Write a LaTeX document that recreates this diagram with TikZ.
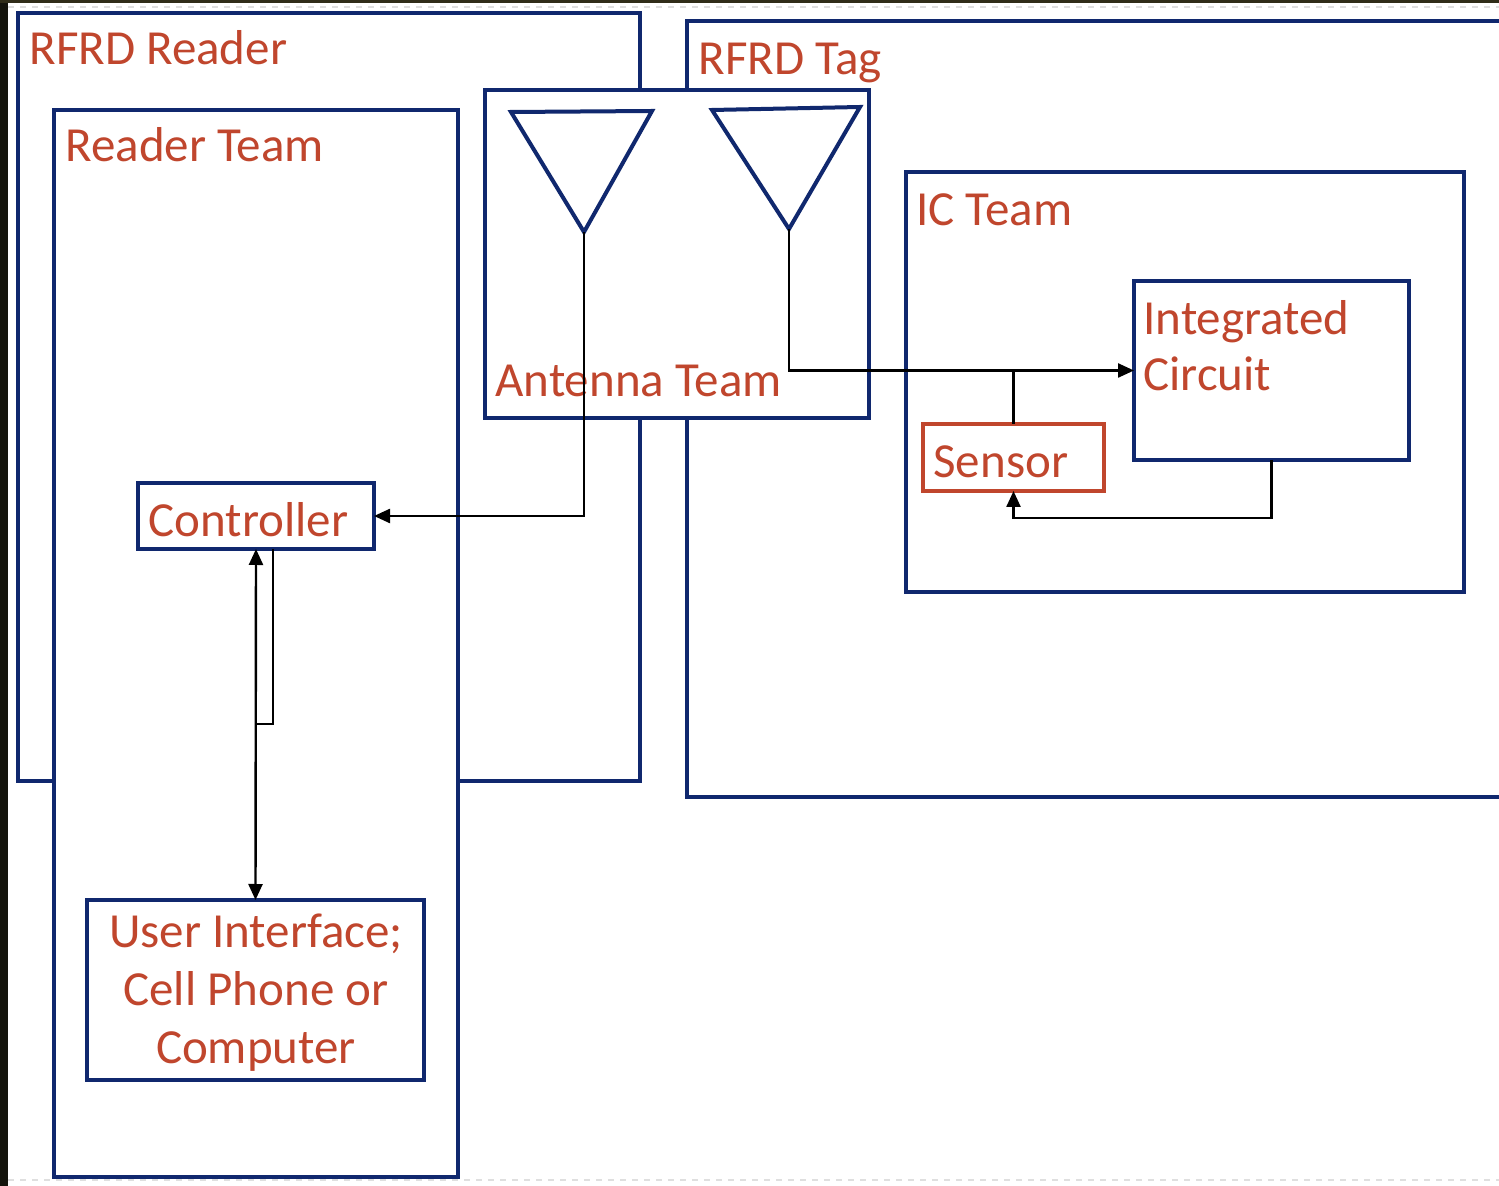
\documentclass[tikz,border=0pt]{standalone}
\usepackage{fontspec}
\setmainfont{Carlito}
\usetikzlibrary{arrows.meta}
\definecolor{navy}{RGB}{16,40,110}
\definecolor{txtred}{RGB}{192,70,45}
\definecolor{darkstrip}{RGB}{20,20,12}
\definecolor{topstrip}{RGB}{48,45,25}
\tikzset{
  box/.style={draw=navy, line width=2pt, fill=white, inner sep=0pt, outer sep=0pt, anchor=north west},
  redbox/.style={draw=txtred, line width=1.8pt, fill=white, inner sep=0pt, outer sep=0pt, anchor=north west},
  lbl/.style={text=txtred, inner sep=0pt, anchor=base west, font=\fontsize{24.5}{29}\selectfont},
  clbl/.style={lbl, anchor=base},
  wire/.style={draw=black, line width=1.2pt},
  tip/.style={-{Triangle[length=8pt,width=7pt]}},
  ant/.style={draw=navy, line width=2pt, line join=miter}
}
\begin{document}
\begin{tikzpicture}[x=0.5pt,y=-0.5pt]
\clip (0,0) rectangle (1499,1186);
\fill[white] (0,0) rectangle (1499,1186);
% screenshot edges
\fill[darkstrip] (0,0) rectangle (8,1186);
\fill[topstrip] (0,0) rectangle (1499,3);
\draw[gray!25, line width=0.6pt, dashed] (8,7) -- (1499,7);
\draw[gray!25, line width=0.6pt, dashed] (8,1180) -- (1499,1180);

% outer boxes
\node[box, minimum width=311pt, minimum height=384pt] (reader) at (18,13) {};
\node[box, minimum width=415pt, minimum height=388pt] (tag) at (687,21) {};
\node[box, minimum width=202pt, minimum height=533.5pt] (readerteam) at (54,110) {};
\node[box, minimum width=192pt, minimum height=164pt] (antenna) at (485,90) {};
\node[box, minimum width=279pt, minimum height=210pt] (icteam) at (906,172) {};
\node[box, minimum width=137.5pt, minimum height=89.5pt] (ic) at (1134,281) {};
\node[redbox, minimum width=90.5pt, minimum height=33.5pt] (sensor) at (923,424) {};
\node[box, minimum width=118pt, minimum height=33pt] (ctrl) at (138,483) {};
\node[box, minimum width=168.5pt, minimum height=90pt] (ui) at (87,900) {};

% antennas
\coordinate (a1) at (584,232);
\coordinate (a2) at (789,229);
\draw[ant] (511,112) -- (652,111) -- (a1) -- cycle;
\draw[ant] (712,110) -- (860,107) -- (a2) -- cycle;

% labels
\node[lbl] (treader) at (29,65) {RFRD Reader};
\node[lbl] (ttag) at (698,75) {RFRD Tag};
\node[lbl] (treaderteam) at (65,162) {Reader Team};
\node[lbl] (tantenna) at (495,397) {Antenna Team};
\node[lbl] (ticteam) at (916,226) {IC Team};
\node[lbl] (tic1) at (1143,335) {Integrated};
\node[lbl] (tic2) at (1143,391) {Circuit};
\node[lbl] (tsensor) at (933,478) {Sensor};
\node[lbl] (tctrl) at (148,537) {Controller};
\node[clbl] (tui1) at (256,947) {User Interface;};
\node[clbl] (tui2) at (256,1005) {Cell Phone or};
\node[clbl] (tui3) at (256,1063) {Computer};

% connectors
\draw[wire, tip] (a1) |- (ctrl.east);
\draw[wire, tip] (a2) |- (ic.west);
\coordinate (j1) at (sensor.north |- ic.west);
\draw[wire] (sensor.north) -- (j1);
\coordinate (j2) at (1272,518);
\draw[wire, tip] (ic.south) -- (ic.south |- j2) -| (sensor.south);
\draw[wire, {Triangle[length=8pt,width=7pt]}-{Triangle[length=8pt,width=7pt]}] (ui.north) -- (ctrl.south);
\coordinate (c1) at ([xshift=8.5pt]ctrl.south);
\coordinate (c2) at (273,724);
\draw[wire] (c1) -- (c2) -- (ctrl.south |- c2);
\end{tikzpicture}
\end{document}
